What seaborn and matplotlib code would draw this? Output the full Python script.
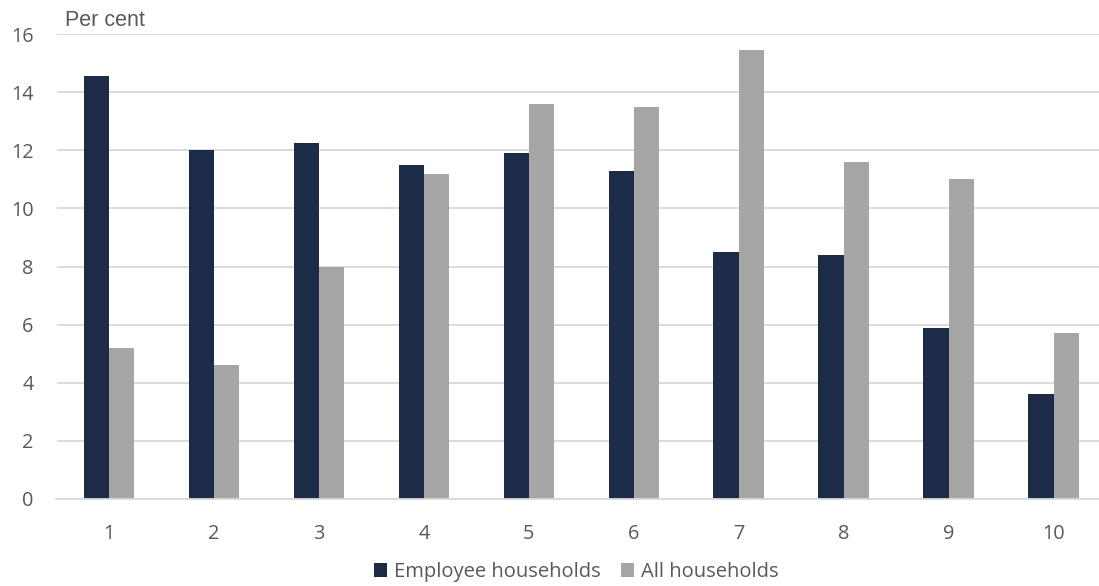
import matplotlib
matplotlib.use("Agg")
import matplotlib.pyplot as plt
import seaborn as sns
import pandas as pd
from matplotlib.patches import Patch

deciles = ["1", "2", "3", "4", "5", "6", "7", "8", "9", "10"]
employee = [14.55, 12.0, 12.25, 11.5, 11.9, 11.3, 8.5, 8.4, 5.9, 3.6]
all_hh = [5.2, 4.6, 8.0, 11.2, 13.6, 13.5, 15.45, 11.6, 11.0, 5.7]
series_names = ["Employee households", "All households"]
colors = ["#1B2B48", "#A6A6A6"]

df = pd.DataFrame({
    "decile": deciles * 2,
    "value": employee + all_hh,
    "series": [series_names[0]] * len(deciles) + [series_names[1]] * len(deciles),
})

sns.set_theme(style="white")
plt.rcParams["font.family"] = ["Open Sans", "DejaVu Sans"]

fig = plt.figure(figsize=(10.99, 5.86), dpi=100)
ax = fig.add_axes([56.5 / 1099, 87 / 586, (1106 - 56.5) / 1099, 465 / 586])

sns.barplot(data=df, x="decile", y="value", hue="series", order=deciles,
            hue_order=series_names, palette=colors, width=0.48, gap=0,
            saturation=1, ax=ax, legend=False, edgecolor="none")

ax.set_xlim(-0.5, 9.5)
ax.set_ylim(0, 16)
ax.set_yticks(range(0, 17, 2))
ax.yaxis.grid(True, color="#D9D9D9", linewidth=1.3)
ax.set_axisbelow(True)
for s in ["top", "right", "left"]:
    ax.spines[s].set_visible(False)
ax.spines["bottom"].set_color("#D9D9D9")
ax.spines["bottom"].set_linewidth(1.3)
ax.set_xlabel("")
ax.set_ylabel("")
ax.tick_params(axis="both", length=0, labelsize=14.3, colors="#595959")
ax.tick_params(axis="x", pad=18)
ax.tick_params(axis="y", pad=16.5)
for lbl in ax.get_yticklabels():
    lbl.set_horizontalalignment("right")

fig.text(65 / 1099, 1 - 20 / 586, "Per cent", fontsize=15.5, color="#595959",
         va="center", ha="left", family=["Liberation Sans", "DejaVu Sans"])

handles = [Patch(facecolor=c, edgecolor="none") for c in colors]
fig.legend(handles, series_names, loc="center", bbox_to_anchor=(576 / 1099, 1 - 572 / 586),
           ncol=2, frameon=False, fontsize=14.5, labelcolor="#595959",
           handlelength=0.65, handleheight=0.65, handletextpad=0.35, columnspacing=1.0)

fig.savefig("out.png", dpi=100)
